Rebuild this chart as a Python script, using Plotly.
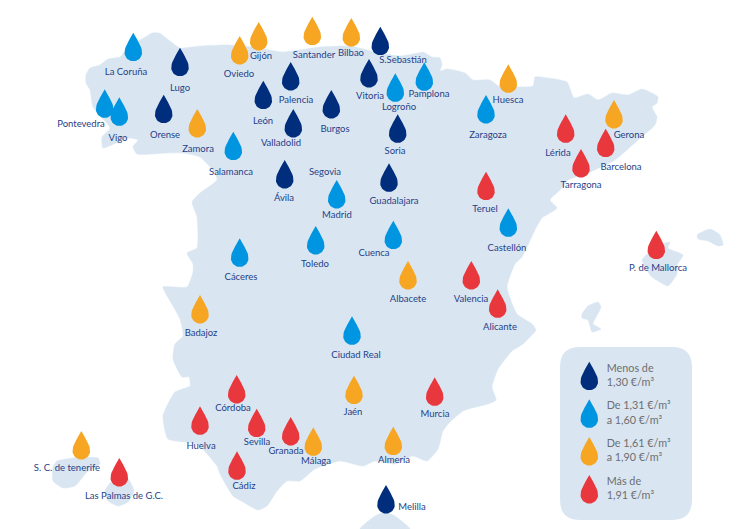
import numpy as np
import plotly.graph_objects as go

# Tier of each city: 0 = under 1,30; 1 = 1,31-1,60; 2 = 1,61-1,90; 3 = over 1,91
cities = ["La Coruña","Lugo","Oviedo","Gijón","Santander","Bilbao","S.Sebastián","Vitoria","Palencia","León",
          "Burgos","Valladolid","Pontevedra","Vigo","Orense","Zamora","Salamanca","Ávila","Madrid","Toledo",
          "Cáceres","Logroño","Pamplona","Huesca","Zaragoza","Soria","Guadalajara","Cuenca","Teruel","Castellón",
          "Lérida","Gerona","Barcelona","Tarragona","P. de Mallorca","Albacete","Valencia","Alicante","Murcia","Almería",
          "Melilla","Badajoz","Ciudad Real","Jaén","Córdoba","Huelva","Sevilla","Granada","Málaga","Cádiz",
          "S. C. de tenerife","Las Palmas de G.C."]
tiers = [1,0,2,2,2,2,0,0,0,0,
         0,0,1,1,0,2,1,0,1,1,
         1,1,1,2,1,0,0,1,3,1,
         3,2,3,3,3,2,3,3,3,2,
         0,2,1,2,3,3,3,3,2,3,
         2,3]
tip_x = [133.3,180,239.7,258.7,312.3,351.3,380.3,369,290.7,263.3,
         331.3,293.3,104.7,119.3,163.7,197.3,233.3,284.7,336.7,315.7,
         239.7,395.3,424.3,508.3,486,397.7,389,393.3,486,508.3,
         565.7,614,605.7,581,656.3,408,471.3,497.7,434.7,393.3,
         386,200,352,354,236.7,200,256.7,290.7,313.3,237,
         81.3,119.3]
tip_y = [32.7,47.7,36,22,16.7,18,26.7,59,62,80.7,
         90,109,89.3,97.3,94.7,109,131.7,160,180,226,
         238.3,73.3,62.3,64.3,95,114.3,163.3,220.7,171.7,208.3,
         114.3,100,128.7,149,230.7,261,261,289.3,377.3,426.7,
         485,295,316.3,375.7,375,406.3,408.7,417,427.3,451.3,
         431,458]
label_x = [126,180,239,261,314,351,403,370,296,263,
           335,281,81,118,165,198,231,284,337,315,
           241,399,429,508,488,395,394,374,485,507,
           558,629,621,581,658,408,471,500,435,394,
           412,201,356,353,233,201,257,286,316,244,
           67,124]
label_y = [73,89,75,57,56,54,61,97,101,122,
           130,144,125,139,136,150,173,199,216,265,
           278,108,95,101,136,152,202,254,210,249,
           154,136,168,186,269,300,300,328,415,461,
           508,334,356,413,409,447,443,452,462,487,
           469,497]
extra_label = ["Segovia"]
extra_x = [325]
extra_y = [173]

legend_lines = ["Menos de","1,30 €/m³","De 1,31 €/m³","a 1,60 €/m³","De 1,61 €/m³","a 1,90 €/m³","Más de","1,91 €/m³"]
legend_line_y = [369,383.3,406.7,421,444.3,458.7,482,496.7]
legend_tip_y = [361.7,399.3,437,475]

# Land outlines
mainland = [(86,75),(90,68),(100,65),(108,59),(120,57),(128,47),(140,40),(147,36),(152,33),(159,33),(170,41),(180,48),
 (200,46),(227,45),(253,47),(283,52),(320,47),(350,46),(375,52),(400,56),(418,53),(423,52),(432,57),(440,58),(442,65),(440,71),
 (447,69),(465,73),(473,80),(490,80),(500,87),(518,87),(533,86),(535,77),(548,78),(567,82),(574,98),(588,94),(598,100),(612,93),
 (628,95),(642,89),(652,93),(658,97),(657,103),(652,107),(657,117),(655,125),(638,140),(615,160),(588,173),(568,180),(560,190),
 (550,200),(557,208),(542,218),(535,230),(522,257),(515,264),(507,287),(517,314),(532,324),(536,330),(530,337),(523,344),(512,351),
 (503,362),(498,369),(492,387),(496,400),(488,404),(472,408),(463,411),(450,422),(443,431),(438,449),(427,461),(413,456),(395,464),
 (375,461),(363,466),(340,461),(315,469),(300,481),(287,481),(277,491),(267,506),(258,510),(243,502),(233,496),(220,474),(217,466),
 (197,444),(168,439),(163,416),(175,392),(190,386),(189,377),(182,377),(173,359),(175,344),(183,336),(180,319),(173,306),(163,287),
 (187,287),(193,272),(193,264),(187,253),(197,248),(197,217),(192,202),(200,193),(217,180),(215,173),(200,157),(183,153),(167,153),
 (137,154),(133,147),(138,140),(128,138),(103,148),(102,137),(110,128),(93,107),(90,90),(86,83),(86,75)]
mallorca = [(665,243),(670,242),(668,248),(683,255),(677,265),(677,274),(668,286),(658,281),(651,276),(642,260),(652,250),(665,243)]
menorca = [(697,235),(710,229),(720,235),(723,245),(718,246),(708,241),(698,239),(697,235)]
ibiza = [(582,314),(588,306),(598,302),(601,307),(595,319),(593,324),(601,329),(592,332),(590,326),(588,320),(582,318),(582,314)]
tenerife = [(53,467),(57,461),(73,458),(98,458),(100,464),(87,472),(75,486),(63,488),(53,481),(53,467)]
gran_canaria = [(105,491),(112,481),(128,479),(134,491),(128,502),(118,506),(108,501),(105,491)]
melilla_land = [(360,529),(375,516),(385,512),(395,516),(410,529),(360,529)]
lands = [mainland, mallorca, menorca, ibiza, tenerife, gran_canaria, melilla_land]

LAND = "#d9e6f2"
TIER_COLORS = ["#002d7c", "#0095e0", "#f6a623", "#e8383d"]
LABEL = "#1f3f87"
GREY = "#6d6e71"
FONT = "Lato"


def drop_outline(x0, y0, w=17.6, h=28.6):
    """Teardrop outline from its tip (x0, y0)."""
    r = w / 2
    cy = h - r
    t = np.linspace(0, 1, 14)
    bx = 3*(1-t)**2*t*1.6 + 3*(1-t)*t**2*r + t**3*r
    by = 3*(1-t)**2*t*4.0 + 3*(1-t)*t**2*(cy-7) + t**3*cy
    a = np.linspace(0, np.pi, 24)[1:-1]
    ax = r*np.cos(a)
    ay = cy + r*np.sin(a)
    xs = np.concatenate([bx, ax, -bx[::-1]]) + x0
    ys = np.concatenate([by, ay, by[::-1]]) + y0
    return list(xs) + [None], list(ys) + [None]


fig = go.Figure()

for land in lands:
    fig.add_trace(go.Scatter(x=[p[0] for p in land], y=[p[1] for p in land], mode="lines",
                             line=dict(color=LAND, width=0.5, shape="spline", smoothing=0.5),
                             fill="toself", fillcolor=LAND, hoverinfo="skip", showlegend=False))

# Legend panel
lx0, lx1, ly0, ly1, rad = 560, 692, 347, 520, 20
fig.add_shape(type="path", line_width=0, fillcolor=LAND, layer="between",
              path=(f"M{lx0+rad},{ly0} L{lx1-rad},{ly0} Q{lx1},{ly0} {lx1},{ly0+rad} L{lx1},{ly1-rad} "
                    f"Q{lx1},{ly1} {lx1-rad},{ly1} L{lx0+rad},{ly1} Q{lx0},{ly1} {lx0},{ly1-rad} "
                    f"L{lx0},{ly0+rad} Q{lx0},{ly0} {lx0+rad},{ly0} Z"))

for tier, color in enumerate(TIER_COLORS):
    xs, ys = [], []
    for cx, cy, t in zip(tip_x, tip_y, tiers):
        if t == tier:
            a, b = drop_outline(cx, cy)
            xs += a
            ys += b
    a, b = drop_outline(589.3, legend_tip_y[tier])
    xs += a
    ys += b
    fig.add_trace(go.Scatter(x=xs, y=ys, mode="lines", line=dict(width=0, color=color), fill="toself",
                             fillcolor=color, hoverinfo="skip", showlegend=False))

fig.add_trace(go.Scatter(x=label_x + extra_x, y=label_y + extra_y, text=cities + extra_label, mode="text",
                         textposition="middle center", textfont=dict(family=FONT, size=9.5, color=LABEL),
                         hoverinfo="skip", showlegend=False))
fig.add_trace(go.Scatter(x=[606.7]*len(legend_lines), y=legend_line_y, text=legend_lines, mode="text",
                         textposition="middle right", textfont=dict(family=FONT, size=10.8, color=GREY),
                         hoverinfo="skip", showlegend=False))

fig.update_layout(width=750, height=529, margin=dict(l=0, r=0, t=0, b=0), paper_bgcolor="white", plot_bgcolor="white",
                  xaxis=dict(range=[0, 750], visible=False, fixedrange=True),
                  yaxis=dict(range=[529, 0], visible=False, fixedrange=True))
fig.write_html("out.html", config=dict(displayModeBar=False), post_script="document.body.style.margin='0';")
